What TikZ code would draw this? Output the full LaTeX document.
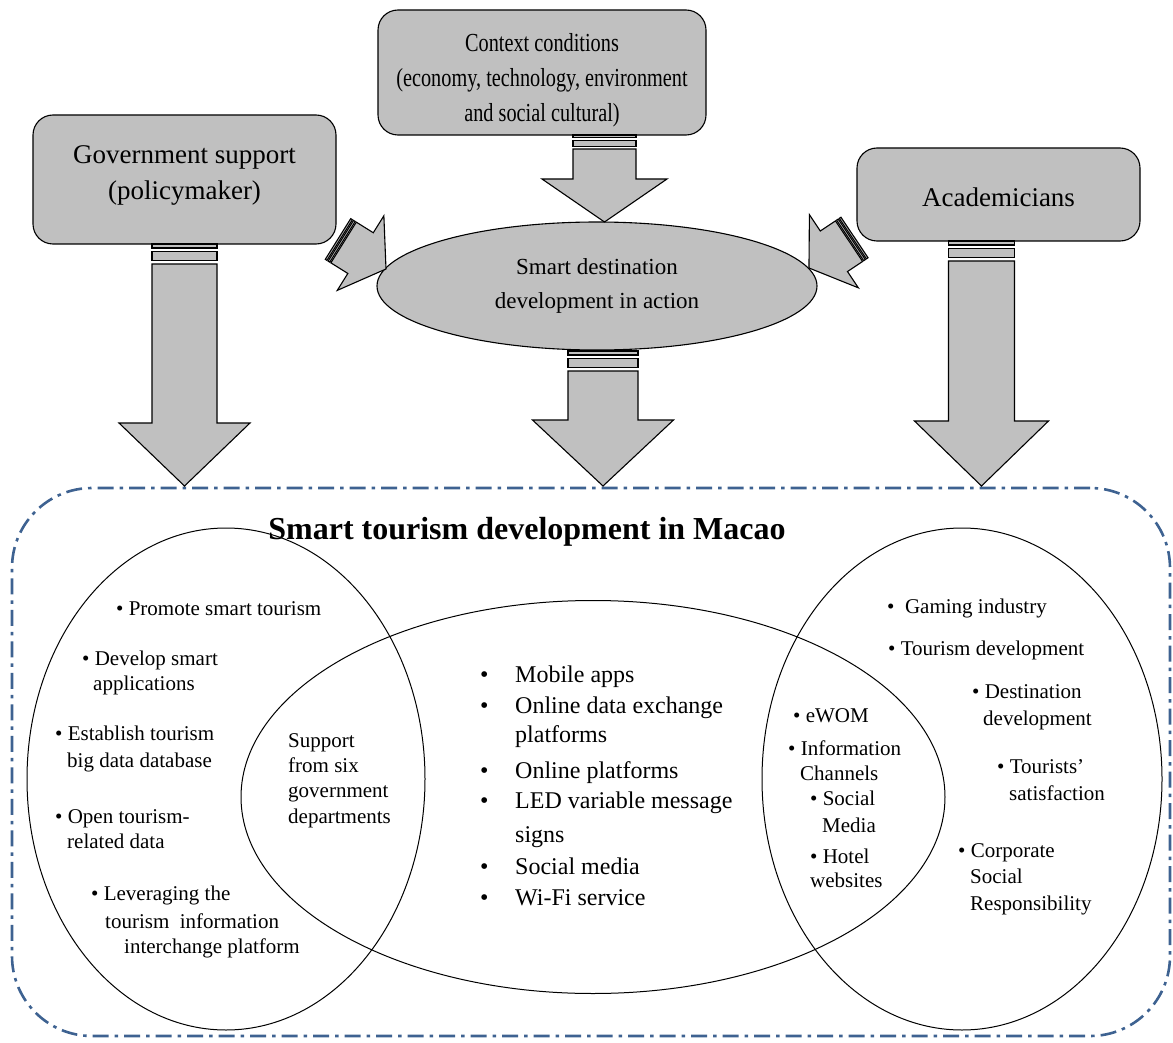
\documentclass[tikz,border=0pt]{standalone}
\usepackage{fontspec}
\setmainfont{Liberation Serif}
\newfontfamily\ctxfont[FakeStretch=0.78]{Liberation Serif}
\usetikzlibrary{shapes.geometric}
\definecolor{boxgray}{RGB}{192,192,192}
\definecolor{frameblue}{RGB}{62,98,145}
% vertical striped block arrow: #1 cx, #2 y0, #3 yhead, #4 ytip, #5 half shaft, #6 half head, #7 stripe scale
\newcommand\vstriped[7]{%
  \filldraw[arrowsty] ({#1-#5},{#2}) rectangle ({#1+#5},{#2+4*#7});
  \filldraw[arrowsty] ({#1-#5},{#2+7.5*#7}) rectangle ({#1+#5},{#2+16.5*#7});
  \filldraw[arrowsty] ({#1-#5},{#2+20*#7}) -- ({#1-#5},{#3}) -- ({#1-#6},{#3}) -- ({#1},{#4}) -- ({#1+#6},{#3}) -- ({#1+#5},{#3}) -- ({#1+#5},{#2+20*#7}) -- cycle;
}
% diagonal striped block arrow: #1 x, #2 y (tail centre), #3 angle, #4 shaft length, #5 head length, #6 half shaft, #7 half head
\newcommand\dstriped[7]{%
  \begin{scope}[shift={(#1,#2)}, rotate=#3]
    \filldraw[arrowsty] (0,{-#6}) rectangle (2,{#6});
    \filldraw[arrowsty] (3.3,{-#6}) rectangle (5.3,{#6});
    \filldraw[arrowsty] (6.6,{-#6}) -- ({#4},{-#6}) -- ({#4},{-#7}) -- ({#4+#5},0) -- ({#4},{#7}) -- ({#4},{#6}) -- (6.6,{#6}) -- cycle;
  \end{scope}}
\begin{document}
\begin{tikzpicture}[x=1pt,y=-1pt,
  boxsty/.style={draw=black, fill=boxgray, line width=1.1pt, rounded corners=20pt, inner sep=0pt},
  arrowsty/.style={fill=boxgray, draw=black, line width=1.1pt},
  venn/.style={ellipse, draw=black, line width=1pt, inner sep=0pt},
  boxtext/.style={font=\fontsize{27}{36}\selectfont, align=center, inner sep=0pt},
  lt/.style={font=\fontsize{21}{25}\selectfont, anchor=west, inner sep=0pt, text height=14.5pt, text depth=4pt},
  ct/.style={font=\fontsize{24}{28}\selectfont, anchor=west, inner sep=0pt, text height=16.5pt, text depth=5pt},
]
\useasboundingbox (0,0) rectangle (1173,1043);

% frame
\node[draw=frameblue, line width=2.6pt, dash pattern=on 16pt off 6pt on 3.5pt off 6pt,
      rounded corners=80pt, minimum width=1158pt, minimum height=548pt, inner sep=0pt] (frame) at (591,762) {};
\node[font=\bfseries\fontsize{32}{35}\selectfont, inner sep=0pt] (title) at (527,532) {Smart tourism development in Macao};

% venn ellipses
\node[venn, minimum width=398pt, minimum height=502pt] (govell) at (226,779) {};
\node[venn, minimum width=704pt, minimum height=393pt] (midell) at (593,797) {};
\node[venn, minimum width=400pt, minimum height=502pt] (acadell) at (962,779) {};

% left list
\node[lt] (l1) at (116,610) {\textbullet\ Promote smart tourism};
\node[lt] (l2a) at (82,660) {\textbullet\ Develop smart};
\node[lt] (l2b) at (93,685) {applications};
\node[lt] (l3a) at (55,735) {\textbullet\ Establish tourism};
\node[lt] (l3b) at (67,762) {big data database};
\node[lt] (l4a) at (55,818) {\textbullet\ Open tourism-};
\node[lt] (l4b) at (67,843) {related data};
\node[lt] (l5a) at (91,895) {\textbullet\ Leveraging the};
\node[lt] (l5b) at (105,923) {tourism\ \ information};
\node[lt] (l5c) at (124,948) {interchange platform};

% support
\node[lt] (s1) at (288,742) {Support};
\node[lt] (s2) at (288,767) {from six};
\node[lt] (s3) at (288,792) {government};
\node[lt] (s4) at (288,818) {departments};

% centre list
\node[ct] (cb1) at (480,677) {\textbullet};
\node[ct] (c1) at (515,677) {Mobile apps};
\node[ct] (cb2) at (480,708) {\textbullet};
\node[ct] (c2a) at (515,708) {Online data exchange};
\node[ct] (c2b) at (515,737) {platforms};
\node[ct] (cb3) at (480,773) {\textbullet};
\node[ct] (c3) at (515,773) {Online platforms};
\node[ct] (cb4) at (480,803) {\textbullet};
\node[ct] (c4a) at (515,803) {LED variable message};
\node[ct] (c4b) at (515,837) {signs};
\node[ct] (cb5) at (480,869) {\textbullet};
\node[ct] (c5) at (515,869) {Social media};
\node[ct] (cb6) at (480,900) {\textbullet};
\node[ct] (c6) at (515,900) {Wi-Fi service};

% overlap right
\node[lt] (o1) at (793,717) {\textbullet\ eWOM};
\node[lt] (o2a) at (788,750) {\textbullet\ Information};
\node[lt] (o2b) at (800,775) {Channels};
\node[lt] (o3a) at (810,800) {\textbullet\ Social};
\node[lt] (o3b) at (822,827) {Media};
\node[lt] (o4a) at (810,858) {\textbullet\ Hotel};
\node[lt] (o4b) at (810,882) {websites};

% right list
\node[lt] (r1) at (887,608) {\textbullet\ \ Gaming industry};
\node[lt] (r2) at (888,650) {\textbullet\ Tourism development};
\node[lt] (r3a) at (972,693) {\textbullet\ Destination};
\node[lt] (r3b) at (983,720) {development};
\node[lt] (r4a) at (997,768) {\textbullet\ Tourists’};
\node[lt] (r4b) at (1009,795) {satisfaction};
\node[lt] (r5a) at (958,852) {\textbullet\ Corporate};
\node[lt] (r5b) at (970,878) {Social};
\node[lt] (r5c) at (970,905) {Responsibility};

% top boxes
\node[boxsty, minimum width=328pt, minimum height=125pt] (ctx) at (542,72.5) {};
\node[font=\ctxfont\fontsize{26}{35}\selectfont, align=center, inner sep=0pt] (ctxt) at (542,80) {Context conditions\\(economy, technology, environment\\and social cultural)};
\node[boxsty, minimum width=303pt, minimum height=129pt] (gov) at (184.5,179.5) {};
\node[boxtext] (govt) at (184.5,175) {Government support\\(policymaker)};
\node[boxsty, minimum width=283pt, minimum height=93pt] (acad) at (998.5,194.5) {};
\node[boxtext] (acadt) at (998.5,197) {Academicians};

% central ellipse
\node[ellipse, draw=black, fill=boxgray, line width=1.1pt, minimum width=440pt, minimum height=128pt, inner sep=0pt,
      font=\fontsize{23}{34}\selectfont, align=center] (sdd) at (597,286) {Smart destination\\development in action};

% arrows
\vstriped{604.5}{135}{179}{222}{31.5}{62.5}{0.7}
\vstriped{184.5}{244}{423}{486}{32.5}{65.5}{1}
\vstriped{603}{351}{420}{486}{35}{70.5}{1}
\vstriped{981.5}{241}{421}{486}{33}{67}{1}
\dstriped{338}{239}{-32}{26.6}{30}{24}{44}
\dstriped{854.5}{237.5}{-146.2}{24.8}{30}{24.4}{44}
\end{tikzpicture}
\end{document}
